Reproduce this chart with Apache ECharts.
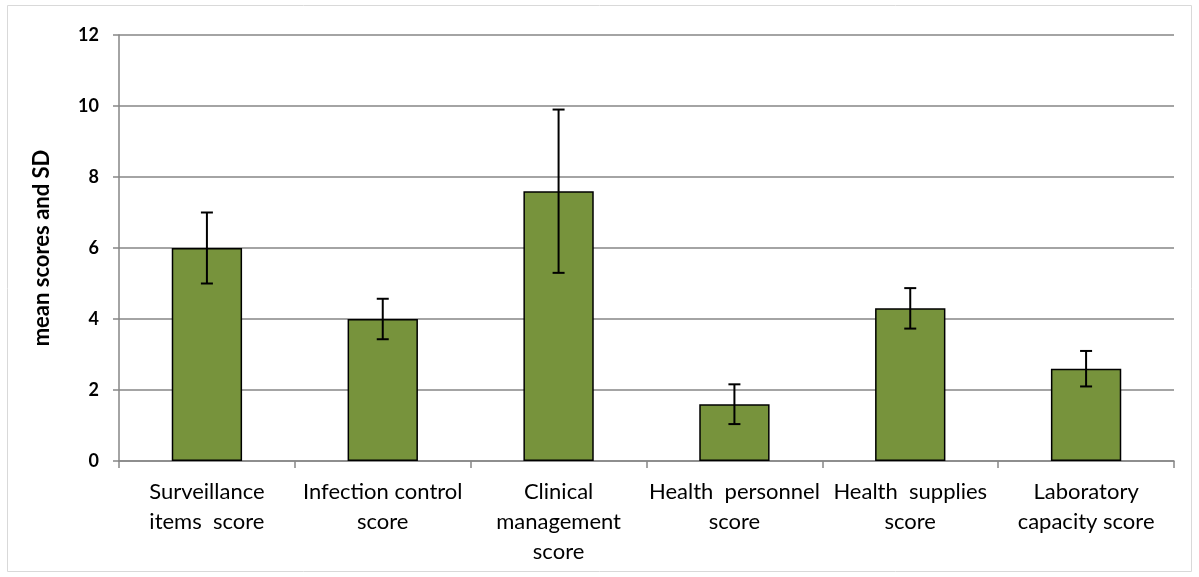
<!DOCTYPE html>
<html><head><meta charset="utf-8">
<script src="https://cdn.jsdelivr.net/npm/echarts@6/dist/echarts.min.js"></script>
<style>html,body{margin:0;padding:0;background:#fff}#c{width:1199px;height:577px}</style>
</head><body><div id="c"></div>
<script>
const categories = ["Surveillance\nitems  score", "Infection control\nscore", "Clinical\nmanagement\nscore", "Health  personnel\nscore", "Health  supplies\nscore", "Laboratory\ncapacity score"];
const means = [6.0, 4.0, 7.6, 1.6, 4.3, 2.6];
const sds = [1.0, 0.57, 2.3, 0.56, 0.57, 0.5];
const yTicks = [0, 2, 4, 6, 8, 10, 12];

const errData = means.map((m, i) => [i, m - sds[i], m + sds[i]]);
const chart = echarts.init(document.getElementById('c'), null, {renderer: 'canvas'});
const font = 'Lato, "Open Sans", sans-serif';
chart.setOption({
  animation: false,
  textStyle: {fontFamily: font},
  graphic: [{type: 'rect', shape: {x: 7.5, y: 5.5, width: 1184, height: 566}, style: {fill: 'none', stroke: '#d9d9d9', lineWidth: 1}, silent: true, z: -1}],
  grid: {left: 119, right: 25, top: 35, bottom: 116},
  xAxis: {
    type: 'category', data: categories,
    axisLine: {lineStyle: {color: '#868686', width: 1.5}},
    axisTick: {show: true, length: 7, lineStyle: {color: '#868686', width: 1.5}},
    axisLabel: {color: '#000', fontSize: 22, lineHeight: 30, margin: 16, interval: 0, fontFamily: font}
  },
  yAxis: {
    type: 'value', min: 0, max: 12, interval: 2,
    name: 'mean scores and SD', nameLocation: 'middle', nameGap: 66, nameRotate: 90,
    nameTextStyle: {color: '#000', fontSize: 22, fontWeight: 'bold', fontFamily: font},
    axisLine: {show: true, lineStyle: {color: '#868686', width: 1.5}},
    axisTick: {show: true, length: 6, lineStyle: {color: '#868686', width: 1.5}},
    axisLabel: {color: '#000', fontSize: 18, fontWeight: 'bold', margin: 20, fontFamily: font,
      formatter: v => yTicks.includes(v) ? String(v) : ''},
    splitLine: {lineStyle: {color: '#868686', width: 1.5}}
  },
  series: [{
    type: 'bar', data: means, barWidth: '40%',
    itemStyle: {color: '#77933C', borderColor: '#000', borderWidth: 1.5}
  }, {
    type: 'custom', data: errData, z: 10,
    renderItem: (params, api) => {
      const x = api.value(0);
      const lo = api.coord([x, api.value(1)]);
      const hi = api.coord([x, api.value(2)]);
      const hw = 6;
      const st = {stroke: '#000', lineWidth: 2};
      return {type: 'group', children: [
        {type: 'line', shape: {x1: lo[0], y1: lo[1], x2: hi[0], y2: hi[1]}, style: st},
        {type: 'line', shape: {x1: lo[0] - hw, y1: lo[1], x2: lo[0] + hw, y2: lo[1]}, style: st},
        {type: 'line', shape: {x1: hi[0] - hw, y1: hi[1], x2: hi[0] + hw, y2: hi[1]}, style: st}
      ]};
    }
  }]
});
</script></body></html>
